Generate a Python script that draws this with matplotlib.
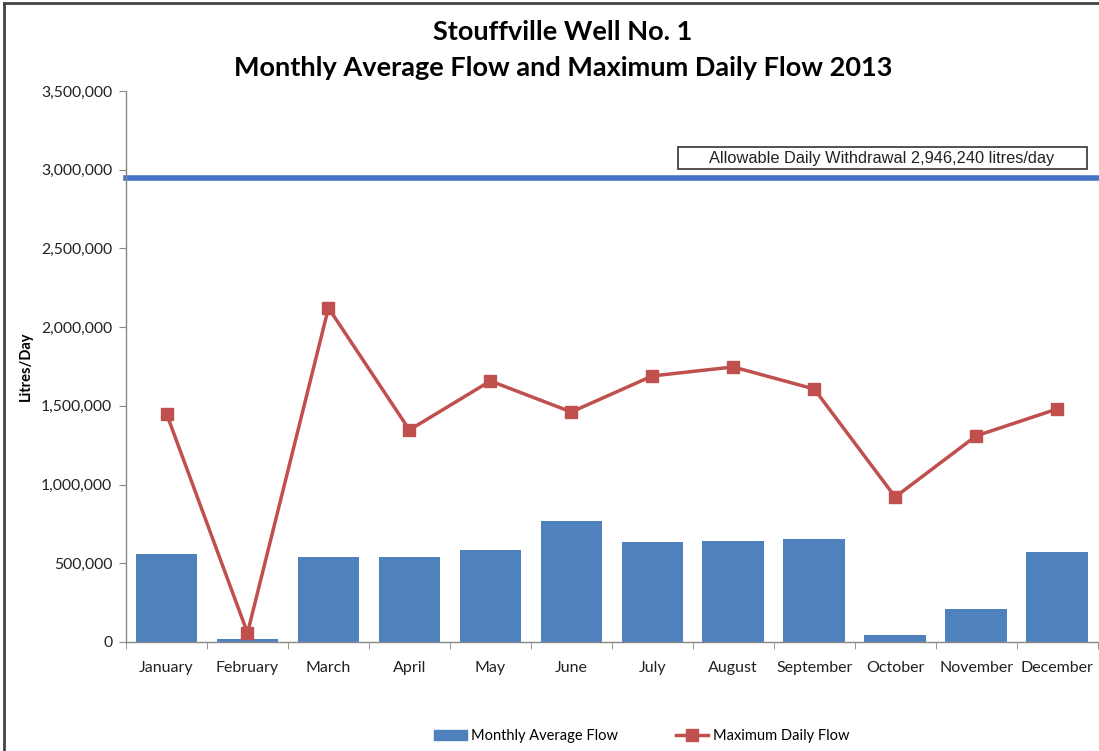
import matplotlib.pyplot as plt
from matplotlib.lines import Line2D
from matplotlib.patches import Patch, Rectangle
from matplotlib.ticker import FuncFormatter

months = ['January', 'February', 'March', 'April', 'May', 'June', 'July',
          'August', 'September', 'October', 'November', 'December']
avg_flow = [560000, 20000, 540000, 540000, 585000, 770000, 635000,
            640000, 655000, 45000, 210000, 572000]
max_flow = [1450000, 57000, 2122000, 1347000, 1658000, 1461000, 1690000,
            1747000, 1607000, 921000, 1309000, 1480000]
allowable = 2946240

fig = plt.figure(figsize=(10.99, 7.51), dpi=100)
ax = fig.add_axes([0.1147, 0.1452, 0.884, 0.7336])

x = list(range(len(months)))
ax.bar(x, avg_flow, width=0.76, color='#4F81BD', zorder=2)
ax.plot(x, max_flow, color='#C0504D', lw=2.5, marker='s', markersize=9, zorder=3)
ax.axhline(allowable, color='#4472C4', lw=4, zorder=1, clip_on=False)

ax.set_xlim(-0.5, 11.5)
ax.set_ylim(0, 3500000)
ax.set_yticks(range(0, 3500001, 500000))
ax.yaxis.set_major_formatter(FuncFormatter(lambda v, p: f'{int(v):,}'))
ax.set_xticks(x)
ax.set_xticklabels(months)
ax.set_xticks([i - 0.5 for i in range(13)], minor=True)
ax.tick_params(axis='x', which='major', length=0, pad=14, labelsize=11.5, labelcolor='#222222')
ax.tick_params(axis='x', which='minor', length=5, color='#888888')
ax.tick_params(axis='y', length=5, color='#888888', labelsize=11.3, labelcolor='#222222', pad=5)
for lbl in ax.get_xticklabels() + ax.get_yticklabels():
    lbl.set_family('Lato')

for s in ['top', 'right']:
    ax.spines[s].set_visible(False)
for s in ['left', 'bottom']:
    ax.spines[s].set_color('#888888')
    ax.spines[s].set_linewidth(1)

ax.set_ylabel('Litres/Day', fontsize=10.5, fontweight='bold', family='Lato', labelpad=6)

# label box for the allowable withdrawal line
trans = ax.get_yaxis_transform()
ax.add_patch(Rectangle((0.568, 3005000), 0.4207, 140000, transform=trans,
                       fc='white', ec='#333333', lw=1.2, zorder=4))
ax.text(0.778, 3073000, 'Allowable Daily Withdrawal 2,946,240 litres/day',
        transform=trans, ha='center', va='center', fontsize=11.8,
        family='Liberation Sans', color='#222222', zorder=5)

fig.text(0.512, 0.958, 'Stouffville Well No. 1', ha='center', va='center',
         fontsize=19.5, fontweight='bold', family='Lato')
fig.text(0.512, 0.91, 'Monthly Average Flow and Maximum Daily Flow 2013', ha='center',
         va='center', fontsize=19.5, fontweight='bold', family='Lato')

handles = [Patch(color='#4F81BD'),
           Line2D([0], [0], color='#C0504D', lw=2.5, marker='s', markersize=9)]
fig.legend(handles, ['Monthly Average Flow', 'Maximum Daily Flow'], loc='center',
           bbox_to_anchor=(0.584, 0.02), ncol=2, frameon=False, columnspacing=4,
           handlelength=2.2, handletextpad=0.3, prop={'family': 'Lato', 'size': 10.5})

# figure border (left and top visible in reference)
fig.add_artist(Line2D([0.004, 0.004], [0, 0.996], color='#444444', lw=2, transform=fig.transFigure))
fig.add_artist(Line2D([0.004, 1.0], [0.996, 0.996], color='#444444', lw=2, transform=fig.transFigure))

fig.savefig('out.png', dpi=100)
